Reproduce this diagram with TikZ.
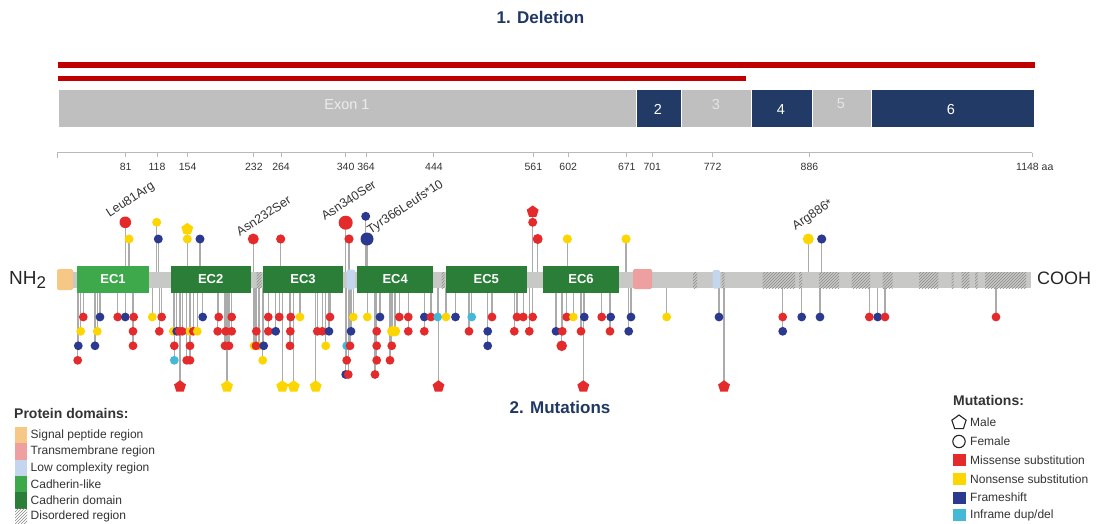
\documentclass[tikz,border=0pt]{standalone}
\usepackage{fontspec}
\setmainfont{Liberation Sans}
\usetikzlibrary{shapes.geometric,patterns}
\definecolor{navy}{HTML}{1F3864}
\definecolor{exnavy}{HTML}{213A66}
\definecolor{exgrey}{HTML}{BFBFBF}
\definecolor{delred}{HTML}{C00000}
\definecolor{mR}{HTML}{E42A2A}
\definecolor{mY}{HTML}{FDD500}
\definecolor{mB}{HTML}{2B3A90}
\definecolor{mC}{HTML}{45B8D8}
\definecolor{bbgrey}{HTML}{C8C8C6}
\definecolor{stemgrey}{HTML}{ABABAB}
\definecolor{hatchgrey}{HTML}{8A8A8A}
\definecolor{sigcol}{HTML}{F6C785}
\definecolor{tmcol}{HTML}{EE9F9F}
\definecolor{lccol}{HTML}{C3D6EE}
\definecolor{cadlike}{HTML}{3DA94A}
\definecolor{caddom}{HTML}{2B7E38}
\definecolor{txt}{HTML}{333333}
\pgfdeclarelayer{bgpaper}
\pgfdeclarelayer{stems}
\pgfsetlayers{bgpaper,stems,main}
\newcommand\lolrow[3][4.4]{%
  \foreach \x/\c in {#3}{%
    \begin{pgfonlayer}{stems}\draw[stemline] (\x,280) -- (\x,#2);\end{pgfonlayer}
    \fill[m\c] (\x,#2) circle (#1);}}
\newcommand\pentrow[2]{%
  \foreach \x/\c in {#2}{%
    \begin{pgfonlayer}{stems}\draw[stemline] (\x,280) -- (\x,#1);\end{pgfonlayer}
    \node[pent, fill=m\c] at (\x,#1) {};}}
\newcommand\lolone[4]{%
  \begin{pgfonlayer}{stems}\draw[stemline] (#1,280) -- (#1,#2);\end{pgfonlayer}
  \fill[m#3] (#1,#2) circle (#4);}
\begin{document}
\begin{tikzpicture}[x=1pt,y=-1pt,
  stemline/.style={draw=stemgrey, line width=1.3},
  pent/.style={regular polygon, regular polygon sides=5, inner sep=0pt, minimum size=12.5pt},
  exon/.style={draw=white, line width=0.8},
  exlab/.style={font=\fontsize{14.5}{16}\selectfont},
  ticklab/.style={font=\fontsize{10.5}{12}\selectfont, text=txt},
  mutlab/.style={font=\fontsize{12.5}{14}\selectfont, text=txt, rotate=33, anchor=south west, inner sep=0pt},
  ecbox/.style={rectangle, inner sep=0pt, text=white, font=\fontsize{13}{15}\selectfont\bfseries, minimum height=27pt},
  hatch/.style={pattern=north east lines, pattern color=hatchgrey},
  legtitle/.style={anchor=west, font=\fontsize{14}{16}\selectfont\bfseries, text=txt},
  legtxt/.style={anchor=west, font=\fontsize{12}{14}\selectfont, text=txt, inner sep=0pt},
  sectitle/.style={font=\fontsize{17}{20}\selectfont\bfseries, text=navy}
]
\useasboundingbox (0,0) rectangle (1101,524);
\begin{pgfonlayer}{bgpaper}
\fill[white] (0,0) rectangle (1101,524);
\end{pgfonlayer}

% ---- 1. Deletion ----
\node[sectitle] (t1) at (540.5,17.5) {1. Deletion};
\fill[delred] (58,62.5) rectangle (1035,67.8);
\fill[delred] (58,75.8) rectangle (746,81);
\path[fill=exgrey, exon] (58,89) rectangle (636,127.7);
\path[fill=exnavy, exon] (636,89) rectangle (681,127.7);
\path[fill=exgrey, exon] (681,89) rectangle (751,127.7);
\path[fill=exnavy, exon] (751,89) rectangle (812,127.7);
\path[fill=exgrey, exon] (812,89) rectangle (871,127.7);
\path[fill=exnavy, exon] (871,89) rectangle (1034,127.7);
\node[exlab, text=white!93!black] (e1) at (347,105) {Exon 1};
\node[exlab, text=white] (e2) at (658,109.5) {2};
\node[exlab, text=white!90!black] (e3) at (716,105) {3};
\node[exlab, text=white] (e4) at (781,109.5) {4};
\node[exlab, text=white!90!black] (e5) at (841,104) {5};
\node[exlab, text=white] (e6) at (951,110) {6};

% ---- axis ----
\draw[draw=gray!55, line width=1] (57,153) -- (1032,153);
\draw[draw=gray!55, line width=1] (57,153) -- (57,158);
\foreach \a in {81,118,154,232,264,340,364,444,561,602,671,701,772,886}{
  \draw[draw=gray!55, line width=1] ({56.8+0.8495*\a},153) -- ({56.8+0.8495*\a},157.5);
  \node[ticklab] at ({56.8+0.8495*\a},167) {\a};}
\draw[draw=gray!55, line width=1] (1032,153) -- (1032,157.5);
\node[ticklab, anchor=west, inner sep=0pt] (aa) at (1016,167) {1148 aa};

% ---- protein backbone ----
\fill[bbgrey] (72,272) rectangle (1031,288);
\foreach \a/\b in {256.7/261.7,441.7/444.5,693/697,721.7/724.5,762.7/795,799/802,819/839,851.7/870,882.7/892.7,919/938.3,951.5/953.5,961.7/969.3,975/977.5,985/1026}
  \fill[hatch] (\a,272) rectangle (\b,288);
\fill[sigcol, rounded corners=1.5] (57,269) rectangle (73,290);
\fill[lccol, rounded corners=1.5] (346.7,269.5) rectangle (355,289.5);
\fill[lccol, rounded corners=1.5] (712.7,270) rectangle (720,288.5);
\fill[tmcol, rounded corners=1.5] (633,269) rectangle (652,289);
\node[ecbox, fill=cadlike, minimum width=72pt] (ec1) at (113,279.2) {EC1};
\node[ecbox, fill=caddom, minimum width=80pt] (ec2) at (210.7,279.2) {EC2};
\node[ecbox, fill=caddom, minimum width=80pt] (ec3) at (303,279.2) {EC3};
\node[ecbox, fill=caddom, minimum width=76.3pt] (ec4) at (395.2,279.2) {EC4};
\node[ecbox, fill=caddom, minimum width=80.7pt] (ec5) at (486.3,279.2) {EC5};
\node[ecbox, fill=caddom, minimum width=76.6pt] (ec6) at (581,279.2) {EC6};
\node[anchor=west, inner sep=0pt, font=\fontsize{19}{21}\selectfont, text=black!85] (nh) at (9,280) {NH\raisebox{-4pt}{\fontsize{17}{19}\selectfont 2}};
\node[anchor=west, inner sep=0pt, font=\fontsize{18}{20}\selectfont, text=black!85] (cooh) at (1037,278) {COOH};

% ---- upper lollipops ----
\lolone{125.3}{222.3}{R}{5.8}
\lolone{129}{239}{Y}{4.5}
\lolone{156.7}{222.3}{Y}{4.5}
\lolone{158.3}{239}{B}{4.5}
\lolone{187.3}{239}{Y}{4.5}
\lolone{200}{239}{B}{4.5}
\lolone{253.3}{239}{R}{5.5}
\lolone{280.7}{239}{R}{4.6}
\lolone{345.7}{222.7}{R}{7}
\lolone{349}{239}{R}{4.6}
\lolone{365.7}{216.3}{B}{4.5}
\lolone{367}{239}{B}{6.5}
\lolone{532.7}{222.3}{R}{4.5}
\lolone{537.7}{239}{R}{5}
\lolone{567.3}{239}{Y}{4.6}
\lolone{626}{239}{Y}{4.6}
\lolone{808.3}{239}{Y}{5.5}
\lolone{821.7}{239}{B}{4.6}
\begin{pgfonlayer}{stems}
\draw[stemline] (187.3,280) -- (187.3,229);
\draw[stemline] (532.7,280) -- (532.7,211.7);
\end{pgfonlayer}
\node[pent, fill=mY] at (187.3,229) {};
\node[pent, fill=mR] at (532.7,211.7) {};
\node[mutlab] (l81) at (111,220) {Leu81Arg};
\node[mutlab] (l232) at (240,236.5) {Asn232Ser};
\node[mutlab] (l340) at (325,221) {Asn340Ser};
\node[mutlab] (l366) at (372,236.5) {Tyr366Leufs*10};
\node[mutlab] (l886) at (797,232.5) {Arg886*};

% ---- lower lollipops ----
\lolrow{317}{83.3/R,100/B,117.7/R,125.3/B,133.7/R,152.3/Y,161.7/R,202.7/B,218.7/R,231.7/R,268.3/R,279.3/R,290.7/R,300/Y,330/R,353.3/Y,367.3/Y,380/B,399.3/R,408.3/R,424.3/B,431/R,437.7/C,446/Y,455.5/B,471.7/C,492/R,517/R,523.3/R,532.7/R,566.7/R,573.3/Y,584.3/B,601.7/R,610.7/B,631/B,666.7/Y,719/B,782.7/R,801.7/B,820/B,869.3/R,877.7/B,885/R,996/R}
\lolrow{331.3}{80.7/Y,97.3/Y,133/R,159.3/R,173.3/Y,176.7/B,179.3/R,182.3/R,190/Y,193.3/R,197.3/Y,217.7/R,225.7/R,231.7/R,256.3/R,268.3/R,275.7/B,290.3/R,317.3/R,322.3/R,329/B,351/B,376.7/R,408.3/R,424.3/R,469/R,487.7/B,514.3/R,529.3/R,556/B,562.3/R,581/R,610/R,628.7/B,782.7/B}
\lolrow[5.2]{331.3}{392.3/Y,395/Y}
\lolrow{345.8}{78.3/B,95/B,133/R,174.3/R,190/R,225/R,229/R,254/Y,259/Y,256/R,263.7/B,290/R,325.7/Y,346.7/C,350/R,376.7/R,391.7/R,487.7/B}
\lolrow[5.3]{345.8}{561.7/R}
\lolrow{360.3}{77.7/R,174.3/C,186.7/R,190/R,262.7/Y,346.7/R,376.7/R,390/R}
\lolrow{374.5}{345.7/B,348.3/R,375/R}
\pentrow{386.5}{180/R,227/Y,282.3/Y,293.7/Y,315.7/Y,438.5/R,583.3/R,724/R}

\node[sectitle] (t2) at (560,407) {2. Mutations};

% ---- legend: protein domains ----
\node[legtitle, inner sep=0pt] (pd) at (14,413) {Protein domains:};
\fill[sigcol] (15,427) rectangle (27,443);
\fill[tmcol] (15,443) rectangle (27,459.5);
\fill[lccol] (15,459.5) rectangle (27,476);
\fill[cadlike] (15,476) rectangle (27,492);
\fill[caddom] (15,492) rectangle (27,508.5);
\fill[hatch] (15,508.5) rectangle (27,523);
\node[legtxt] (d1) at (30.5,435) {Signal peptide region};
\node[legtxt] (d2) at (30.5,451.5) {Transmembrane region};
\node[legtxt] (d3) at (30.5,468) {Low complexity region};
\node[legtxt] (d4) at (30.5,484) {Cadherin-like};
\node[legtxt] (d5) at (30.5,500) {Cadherin domain};
\node[legtxt] (d6) at (30.5,516.5) {Disordered region};

% ---- legend: mutations ----
\node[legtitle, inner sep=0pt] (mt) at (953,400) {Mutations:};
\node[pent, draw=black!85, line width=1.1, minimum size=15pt] (male) at (959,422.5) {};
\draw[black!85, line width=1.1] (959,441.5) circle (6.2);
\node[legtxt] (m1) at (970,422) {Male};
\node[legtxt] (m2) at (970,441) {Female};
\fill[mR] (953,454) rectangle (966,466);
\fill[mY] (953,472.7) rectangle (966,485);
\fill[mB] (953,491.5) rectangle (966,503.5);
\fill[mC] (953,509.3) rectangle (966,521);
\node[legtxt] (m3) at (970,460) {Missense substitution};
\node[legtxt] (m4) at (970,479) {Nonsense substitution};
\node[legtxt] (m5) at (970,497.5) {Frameshift};
\node[legtxt] (m6) at (970,515) {Inframe dup/del};
\end{tikzpicture}
\end{document}
